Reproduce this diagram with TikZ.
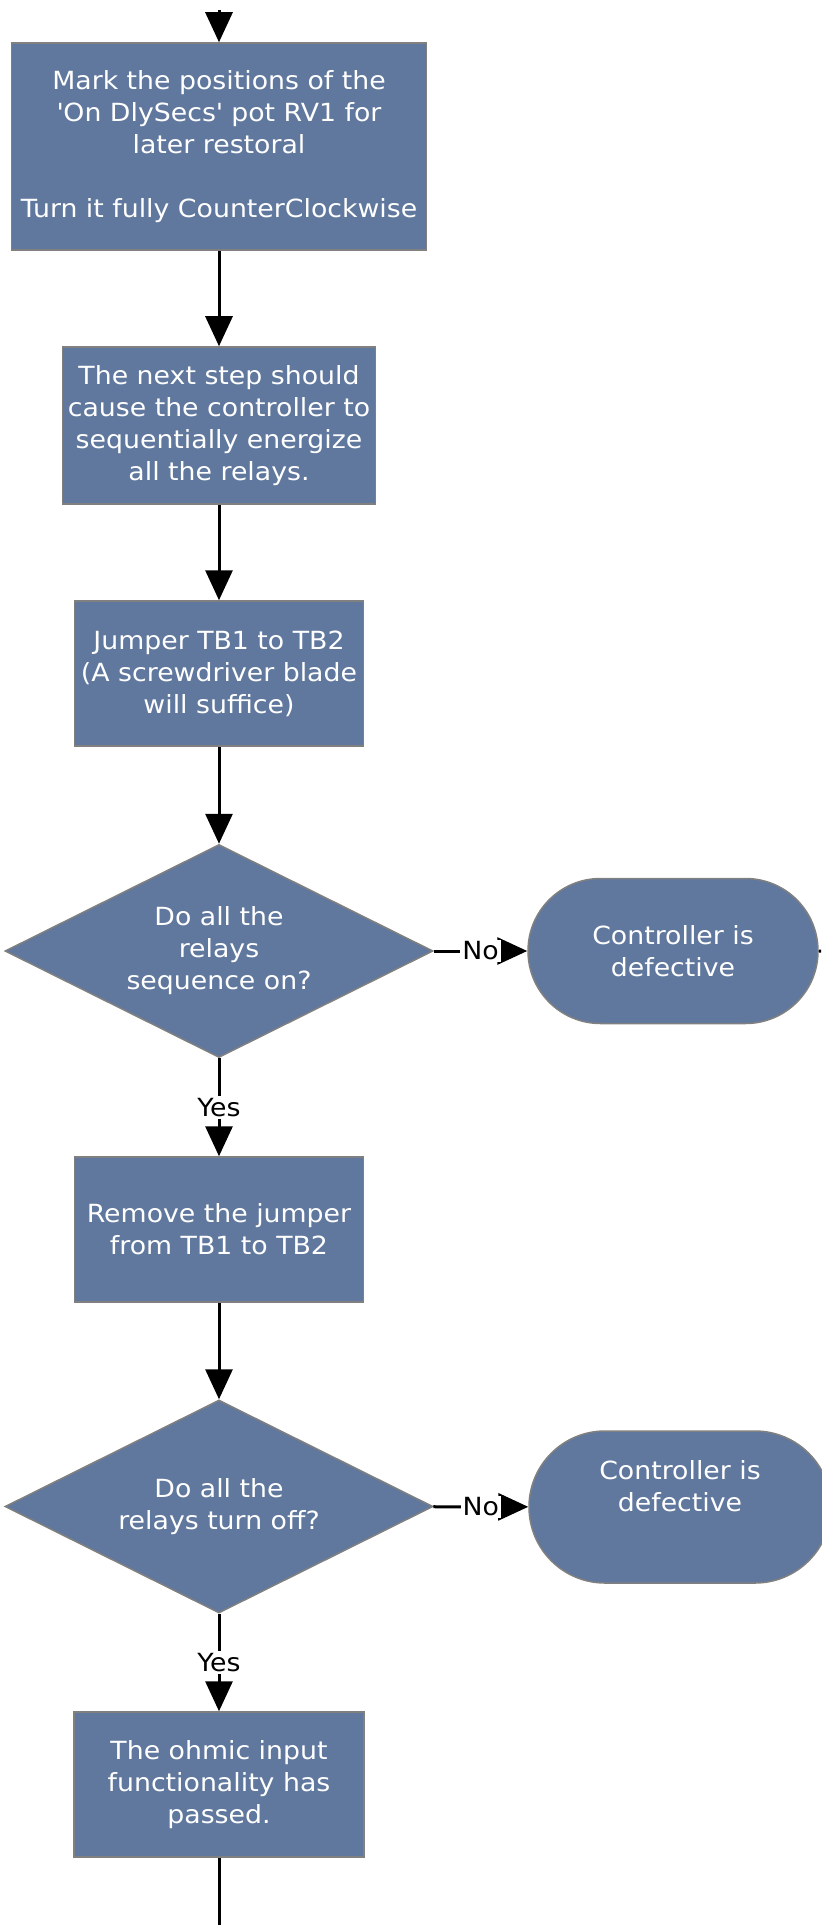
\documentclass[tikz,border=0pt]{standalone}
\usepackage{fontspec}
\setmainfont[FakeStretch=1.07]{DejaVu Sans}
\usepackage{tikz}
\usetikzlibrary{arrows.meta,shapes.geometric,shapes.misc}
\definecolor{boxblue}{RGB}{96,120,158}
\definecolor{boxedge}{RGB}{128,128,128}

\begin{document}
\begin{tikzpicture}[x=0.5pt,y=-0.5pt,
  every node/.style={font=\fontsize{12.5}{16}\selectfont},
  stepbox/.style={rectangle,fill=boxblue,draw=boxedge,line width=0.75pt,text=white,align=center,inner sep=0pt},
  decision/.style={diamond,aspect=2,fill=boxblue,draw=boxedge,line width=0.75pt,text=white,align=center,inner sep=0pt,minimum width=214pt,minimum height=106.5pt},
  endbox/.style={rounded rectangle,fill=boxblue,draw=boxedge,line width=0.75pt,text=white,align=center,inner sep=0pt},
  flow/.style={line width=1.5pt,-{Triangle[length=15pt,width=13.5pt]}},
  answer/.style={fill=white,inner sep=1pt}]
\useasboundingbox (0,0) rectangle (821,1925);
% main column
\node[stepbox,minimum width=207.5pt,minimum height=103.5pt] (mark) at (219,146.5)
  {Mark the positions of the\\\textquotesingle On DlySecs\textquotesingle\ pot RV1 for\\later restoral\\[16pt]Turn it fully CounterClockwise};
\node[stepbox,minimum width=156.5pt,minimum height=78.5pt] (next) at (219,425.5)
  {The next step should\\cause the controller to\\sequentially energize\\all the relays.};
\node[stepbox,minimum width=144.5pt,minimum height=72.5pt] (jumper) at (219,673.5)
  {Jumper TB1 to TB2\\(A screwdriver blade\\will suffice)};
\node[decision] (seq) at (219,951) {Do all the\\relays\\sequence on?};
\node[stepbox,minimum width=144.5pt,minimum height=72.5pt] (remove) at (219,1229.5)
  {Remove the jumper\\from TB1 to TB2};
\node[decision] (off) at (219,1506.5) {Do all the\\relays turn off?};
\node[stepbox,minimum width=145pt,minimum height=72.5pt] (done) at (219,1784.5)
  {The ohmic input\\functionality has\\passed.};
% side exits
\node[endbox,minimum width=145pt,minimum height=72.5pt] (fail1) at (673,951) {Controller is\\defective};
\node[endbox,minimum width=151pt,minimum height=76pt] (fail2) at (680,1507) {Controller is\\defective\\\strut};

\coordinate (top) at (219,10);
\coordinate (bottom) at (219,1925);
\coordinate (away) at (821,951);

\draw[flow] (top) -- (mark);
\draw[flow] (mark) -- (next);
\draw[flow] (next) -- (jumper);
\draw[flow] (jumper) -- (seq);
\draw[flow] (seq) -- node[answer] {No} (fail1);
\draw[flow] (seq) -- node[answer] {Yes} (remove);
\draw[flow] (remove) -- (off);
\draw[flow] (off) -- node[answer] {No} (fail2);
\draw[flow] (off) -- node[answer] {Yes} (done);
\draw[line width=1.5pt] (done) -- (bottom);
\draw[line width=1.5pt] (fail1) -- (away);
\end{tikzpicture}
\end{document}
